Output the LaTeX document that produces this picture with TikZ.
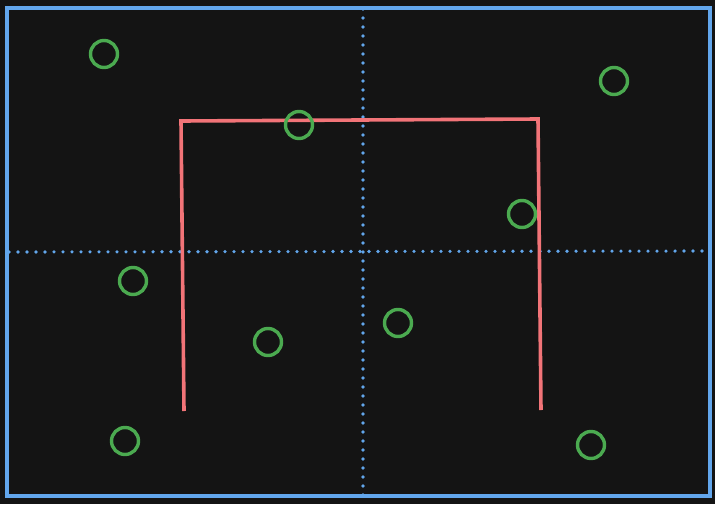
\documentclass[tikz,border=0pt]{standalone}
\usepackage{tikz}
\usetikzlibrary{backgrounds}
\definecolor{bgdark}{HTML}{141414}
\definecolor{frameblue}{HTML}{62A6EC}
\definecolor{pathred}{HTML}{F27478}
\definecolor{dotgreen}{HTML}{4BAA50}
\tikzset{frame/.style={draw=frameblue,line width=4pt},
grid line/.style={draw=frameblue,line width=3.6pt,line cap=round,dash pattern=on 0pt off 9pt},
red path/.style={draw=pathred,line width=3.6pt},
point/.style={circle,draw=dotgreen,line width=3.4pt,minimum size=27pt,inner sep=0pt}}

\begin{document}
\begin{tikzpicture}[x=1pt,y=-1pt]
\useasboundingbox (0,0) rectangle (715,504);
\fill[bgdark] (0,0) rectangle (715,504);
\draw[frame] (7,8) rectangle (710,496);

% dotted halves
\draw[grid line] (363,9) -- (363,495);
\draw[grid line] (9,252) -- (709,251);

% red open box
\draw[red path] (184,411) -- (181,121) -- (538,119) -- (541,410);

% points
\foreach \name/\x/\y in {p1/104/54,p2/614/81,p3/299/125,p4/522/214,p5/133/281,p6/268/342,p7/398/323,p8/125/441,p9/591/445}
  \node (\name) [point] at (\x,\y) {};
\end{tikzpicture}
\end{document}
